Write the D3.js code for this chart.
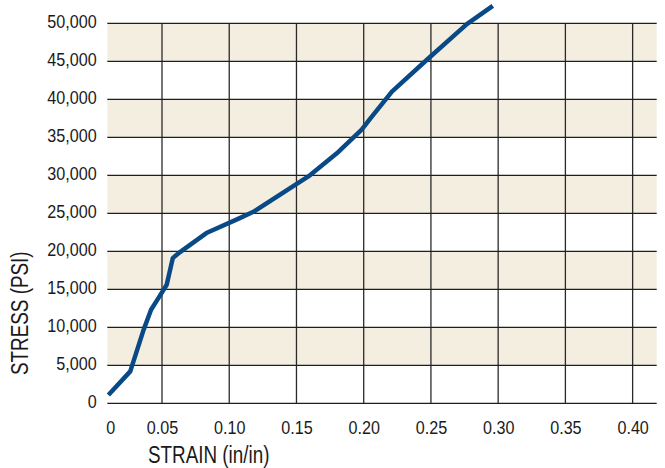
<!DOCTYPE html>
<html>
<head>
<meta charset="utf-8">
<script src="https://cdn.jsdelivr.net/npm/d3@7"></script>
<style>
  html, body { margin: 0; padding: 0; background: #fff; }
  svg text { font-family: "Liberation Sans", Arial, sans-serif; fill: #1a1a1a; }
</style>
</head>
<body>
<svg id="chart" width="665" height="468"></svg>
<script>
// ---- data ----
const strain = [0.001, 0.021, 0.033, 0.040, 0.047, 0.0535, 0.058, 0.0634, 0.083, 0.107, 0.118, 0.160, 0.180, 0.1985, 0.205, 0.221, 0.247, 0.2717, 0.2767, 0.296];
const stress = [1100, 4200, 9600, 12300, 13900, 15600, 19100, 19900, 22400, 24300, 25200, 30000, 32900, 36000, 37500, 41000, 45200, 49100, 49900, 52300];
const xTicks = [0, 0.05, 0.10, 0.15, 0.20, 0.25, 0.30, 0.35, 0.40];
const xTickLabels = ["0", "0.05", "0.10", "0.15", "0.20", "0.25", "0.30", "0.35", "0.40"];
const yTicks = [0, 5000, 10000, 15000, 20000, 25000, 30000, 35000, 40000, 45000, 50000];
const bandStarts = [5000, 15000, 25000, 35000, 45000];
const xTitle = "STRAIN (in/in)";
const yTitle = "STRESS (PSI)";

// ---- layout ----
const svg = d3.select("#chart");
const pLeft = 107.3, pRight = 656.7, pTop = 23.3, pBottom = 403.3;
const narrow = 0.85;   // horizontal squeeze to imitate a condensed face

const x = d3.scaleLinear().domain([0, 0.05, 0.4179]).range([pLeft, 162, pRight]);
const y = d3.scaleLinear().domain([0, 50000]).range([pBottom, pTop]);

// bands
svg.append("g").selectAll("rect").data(bandStarts).join("rect")
  .attr("x", pLeft).attr("width", pRight - pLeft)
  .attr("y", d => y(d + 5000)).attr("height", d => y(d) - y(d + 5000))
  .attr("fill", "#f4eee1");

// vertical gridlines
svg.append("g").selectAll("line").data(xTicks.filter(d => d > 0)).join("line")
  .attr("x1", d => x(d)).attr("x2", d => x(d))
  .attr("y1", pTop).attr("y2", pBottom)
  .attr("stroke", "#2a2a2a").attr("stroke-width", 1.3);

// horizontal gridlines
svg.append("g").selectAll("line").data(yTicks).join("line")
  .attr("x1", pLeft).attr("x2", pRight)
  .attr("y1", d => y(d)).attr("y2", d => y(d))
  .attr("stroke", "#1f1f1f").attr("stroke-width", 1.3);

// y axis labels
const yAxis = d3.axisLeft(y).tickValues(yTicks).tickSize(0).tickPadding(10.6)
  .tickFormat(d3.format(","));
const gy = svg.append("g").attr("transform", `translate(${pLeft},0)`).call(yAxis);
gy.select(".domain").remove();
gy.selectAll("text").attr("font-size", 19).attr("font-family", null)
  .attr("dy", 0).attr("y", 4.3)
  .attr("x", -10.6 / narrow)
  .attr("transform", `scale(${narrow},1)`);

// x axis labels
const xAxis = d3.axisBottom(x).tickValues(xTicks).tickSize(0).tickPadding(16)
  .tickFormat((d, i) => xTickLabels[i]);
const gx = svg.append("g").attr("transform", `translate(0,${pBottom})`).call(xAxis);
gx.select(".domain").remove();
gx.selectAll("text").attr("font-size", 19).attr("font-family", null)
  .attr("dy", 0).attr("y", 31)
  .attr("x", (d, i) => i === 0 ? 3 / narrow : 0)
  .attr("transform", `scale(${narrow},1)`);

// curve
const pts = strain.map((s, i) => [s, stress[i]]);
svg.append("path").datum(pts)
  .attr("d", d3.line().x(d => x(d[0])).y(d => y(d[1])))
  .attr("fill", "none").attr("stroke", "#094a86").attr("stroke-width", 4.5)
  .attr("stroke-linejoin", "round").attr("stroke-linecap", "butt");

// titles
svg.append("text").attr("transform", "translate(148,463) scale(0.82,1)")
  .attr("font-size", 23).text(xTitle);
svg.append("text").attr("transform", "translate(28,375) rotate(-90) scale(0.82,1)")
  .attr("font-size", 23).text(yTitle);
</script>
</body>
</html>
